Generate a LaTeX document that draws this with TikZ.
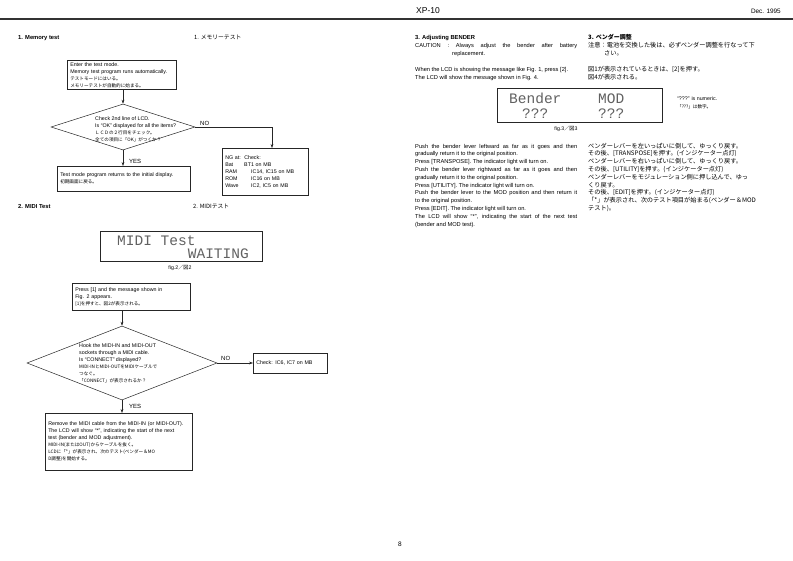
\documentclass[tikz,border=0pt]{standalone}
\usepackage{fontspec}
\setmainfont{Liberation Sans}
\newfontfamily\jp{Noto Sans CJK JP}
\newfontfamily\lcd{Liberation Mono}
\usetikzlibrary{shapes.geometric,arrows.meta}
\newcommand\jps{\jp\fontsize{4.6}{7}\selectfont}
\newcommand\jpb{\jp\fontsize{6.2}{7.8}\selectfont}
\begin{document}
\begin{tikzpicture}[x=1pt,y=-1pt,
  box/.style={draw=black!85, line width=0.5pt, inner xsep=3pt, inner ysep=2pt, align=left, font=\fontsize{5.3}{7}\selectfont},
  dia/.style={diamond, draw=black!85, line width=0.5pt, inner sep=0pt},
  txt/.style={inner sep=0pt, align=left, font=\fontsize{5.3}{7}\selectfont},
  con/.style={draw=black!85, line width=0.5pt, -{Stealth[length=4pt,width=2.8pt]}},
  lbl/.style={inner sep=0pt, font=\fontsize{6}{7}\selectfont},
  head/.style={inner sep=0pt, anchor=base west, font=\bfseries\fontsize{5.8}{7}\selectfont},
  body/.style={inner sep=0pt, anchor=base west, font=\fontsize{5.7}{8}\selectfont},
  jbody/.style={inner sep=0pt, anchor=base west, font=\jpb},
  lcdtext/.style={inner sep=0pt, font=\lcd\fontsize{14.5}{15}\selectfont, text=black!62},
  lcdbox/.style={draw=black!85, line width=0.6pt, inner sep=0pt, anchor=north west},
]
\useasboundingbox (0,0) rectangle (793,560);
\fill[white] (0,0) rectangle (793,560);

% header
\node[inner sep=0, anchor=base west, font=\fontsize{8.5}{9}\selectfont] (hdr) at (416,13) {XP-10};
\node[inner sep=0, anchor=base east, font=\fontsize{6.4}{7}\selectfont] (date) at (781,13) {Dec. 1995};
\draw[line width=1.2pt, black!80] (0,19) -- (793,19);
\node[inner sep=0, anchor=base, font=\fontsize{6.5}{7}\selectfont] (pg) at (400,546) {8};

% ===== 1. Memory test =====
\node[head] (h1) at (18,39) {1. Memory test};
\node[head, font=\jp\fontsize{5.8}{7}\selectfont] (h1j) at (194,39) {1. メモリーテスト};

\node[box, anchor=north west, text width=103, minimum height=28] (b1) at (67,60)
 {Enter the test mode.\\Memory test program runs automatically.\\{\jps テストモードにはいる。}\\{\jps メモリーテストが自動的に始まる。}};

\node[dia, minimum width=144, minimum height=46] (d1) at (123,127) {};
\node[txt, anchor=west] (d1t) at (95,129)
 {Check 2nd line of LCD.\\Is “OK” displayed for all the items?\\{\jps ＬＣＤの２行目をチェック。}\\{\jps 全ての項目に「OK」がつくか？}};

\node[box, anchor=north west, text width=80, minimum height=47] (ng) at (222,148)
 {\makebox[19pt][l]{NG at:}Check:\\
  \makebox[19pt][l]{Bat}BT1 on MB\\
  \makebox[26pt][l]{RAM}IC14, IC15 on MB\\
  \makebox[26pt][l]{ROM}IC16 on MB\\
  \makebox[26pt][l]{Wave}IC2, IC5 on MB};
\coordinate (ngin) at ([xshift=50pt]ng.north west);

\node[box, anchor=north west, text width=127, minimum height=25] (tb) at (57,166)
 {Test mode program returns to the initial display.\\{\jps 初期画面に戻る。}};

\draw[con] (b1.south -| d1.north) -- (d1.north);
\draw[con] (d1.east) -| (ngin);
\draw[con] (d1.south) -- (d1.south |- tb.north);
\node[lbl, anchor=south west] (no1) at (200,126) {NO};
\node[lbl, anchor=west] (yes1) at (129,161) {YES};

% ===== 2. MIDI test =====
\node[head] (h2) at (18,208) {2. MIDI Test};
\node[head, font=\jp\fontsize{5.8}{7}\selectfont] (h2j) at (193,208) {2. MIDIテスト};

\node[lcdbox, minimum width=162, minimum height=30] (lcd1) at (100,231) {};
\node[lcdtext, anchor=base west] (l1a) at (117,245) {MIDI Test};
\node[lcdtext, anchor=base east] (l1b) at (249,258) {WAITING};
\node[inner sep=0, font=\fontsize{5.2}{6}\selectfont] (f2) at (180,268) {fig.2{\jp ／図}2};

\node[box, anchor=north west, text width=112, minimum height=27] (pb) at (72,283)
 {Press [1] and the message shown in\\Fig. 2 appears.\\{\jps [1]を押すと、図2が表示される。}};

\node[dia, minimum width=190, minimum height=74] (d2) at (122,363) {};
\node[txt, anchor=west] (d2t) at (79,363)
 {Hook the MIDI-IN and MIDI-OUT\\sockets through a MIDI cable.\\Is “CONNECT” displayed?\\{\jps MIDI-INとMIDI-OUTをMIDIケーブルで}\\{\jps つなぐ。}\\{\jps 「CONNECT」が表示されるか？}};

\node[box, anchor=west, text width=68, minimum height=20] (ck) at (253,363) {Check: IC6, IC7 on MB};

\node[box, anchor=north west, text width=141, minimum height=57] (fb) at (45,413)
 {Remove the MIDI cable from the MIDI-IN (or MIDI-OUT).\\The LCD will show “*”, indicating the start of the next\\test (bender and MOD adjustment).\\{\jps MIDI-IN(またはOUT)からケーブルを抜く。}\\{\jps LCDに「*」が表示され、次のテスト(ベンダー＆MO}\\{\jps D調整)を開始する。}};

\draw[con] (pb.south -| d2.north) -- (d2.north);
\draw[con] (d2.east) -- (ck.west);
\draw[con] (d2.south) -- (d2.south |- fb.north);
\node[lbl, anchor=south west] (no2) at (221,361) {NO};
\node[lbl, anchor=west] (yes2) at (129,406) {YES};

% ===== 3. Adjusting BENDER =====
\node[head] (h3) at (415,39) {3. Adjusting BENDER};
\node[body] (c1) at (415,47) {\makebox[162pt][s]{CAUTION : Always adjust the bender after battery}};
\node[body] (c2) at (452,55) {replacement.};
\node[head, font=\jp\bfseries\fontsize{6}{7}\selectfont] (h3j) at (588,39) {3. ベンダー調整};
\node[jbody] (cj1) at (588,47) {注意：電池を交換した後は、必ずベンダー調整を行なって下};
\node[jbody] (cj2) at (604,55) {さい。};

\node[body] (w1) at (415,71) {When the LCD is showing the message like Fig. 1, press [2].};
\node[body] (w2) at (415,79) {The LCD will show the message shown in Fig. 4.};
\node[jbody] (wj1) at (588,71) {図1が表示されているときは、[2]を押す。};
\node[jbody] (wj2) at (588,79) {図4が表示される。};

\node[lcdbox, minimum width=165, minimum height=34] (lcd2) at (497,88) {};
\node[lcdtext, anchor=base west] (l2a) at (509,103) {Bender};
\node[lcdtext, anchor=base west] (l2b) at (598,103) {MOD};
\node[lcdtext, anchor=base west] (l2c) at (522,118) {???};
\node[lcdtext, anchor=base west] (l2d) at (598,118) {???};
\node[txt, anchor=base west] (q1) at (677,100) {“???” is numeric.};
\node[txt, anchor=base west, font=\jps] (q2) at (677,108) {「???」は数字。};
\node[inner sep=0, font=\fontsize{5.2}{6}\selectfont] (f3) at (566,129) {fig.3{\jp ／図}3};

\node[body] (e1) at (415,148.0) {\makebox[162pt][s]{Push the bender lever leftward as far as it goes and then}};
\node[body] (e2) at (415,155.8) {gradually return it to the original position.};
\node[body] (e3) at (415,163.6) {Press [TRANSPOSE]. The indicator light will turn on.};
\node[body] (e4) at (415,171.4) {\makebox[162pt][s]{Push the bender lever rightward as far as it goes and then}};
\node[body] (e5) at (415,179.2) {gradually return it to the original position.};
\node[body] (e6) at (415,187.0) {Press [UTILITY]. The indicator light will turn on.};
\node[body] (e7) at (415,194.8) {\makebox[162pt][s]{Push the bender lever to the MOD position and then return it}};
\node[body] (e8) at (415,202.6) {to the original position.};
\node[body] (e9) at (415,210.4) {Press [EDIT]. The indicator light will turn on.};
\node[body] (e10) at (415,218.2) {\makebox[162pt][s]{The LCD will show “*”, indicating the start of the next test}};
\node[body] (e11) at (415,226.0) {(bender and MOD test).};

\node[jbody] (j1) at (588,148.0) {ベンダーレバーを左いっぱいに倒して、ゆっくり戻す。};
\node[jbody] (j2) at (588,155.8) {その後、[TRANSPOSE]を押す。(インジケーター点灯)};
\node[jbody] (j3) at (588,163.6) {ベンダーレバーを右いっぱいに倒して、ゆっくり戻す。};
\node[jbody] (j4) at (588,171.4) {その後、[UTILITY]を押す。(インジケーター点灯)};
\node[jbody] (j5) at (588,179.2) {ベンダーレバーをモジュレーション側に押し込んで、ゆっ};
\node[jbody] (j6) at (588,187.0) {くり戻す。};
\node[jbody] (j7) at (588,194.8) {その後、[EDIT]を押す。(インジケーター点灯)};
\node[jbody] (j8) at (588,202.6) {「*」が表示され、次のテスト項目が始まる(ベンダー＆MOD};
\node[jbody] (j9) at (588,210.4) {テスト)。};
\end{tikzpicture}
\end{document}
